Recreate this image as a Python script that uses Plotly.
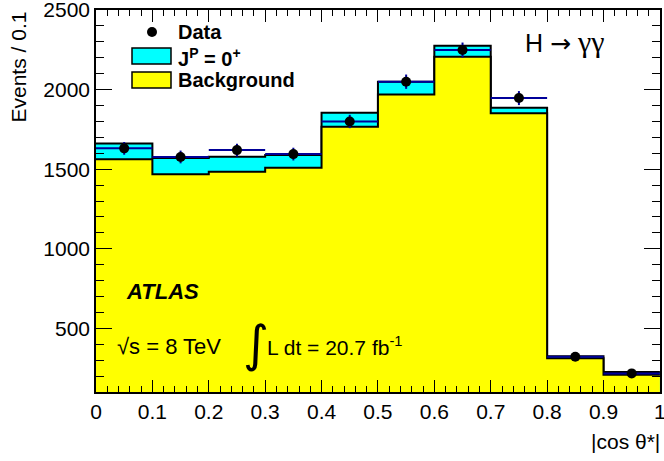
import plotly.graph_objects as go

# bin edges of |cos theta*|
edges = [0.0, 0.1, 0.2, 0.3, 0.4, 0.5, 0.6, 0.7, 0.8, 0.9, 1.0]
bin_centres = [0.05, 0.15, 0.25, 0.35, 0.45, 0.55, 0.65, 0.75, 0.85, 0.95]
bin_halfwidth = [0.05] * 10

background = [1562, 1468, 1484, 1509, 1767, 1970, 2207, 1851, 312, 209]
signal_plus_bkg = [1662, 1570, 1578, 1590, 1855, 2050, 2276, 1886, 325, 226]
data = [1631, 1577, 1620, 1595, 1800, 2050, 2249, 1947, 322, 217]
data_err = [40, 40, 40, 40, 42, 45, 47, 44, 18, 15]

FONT = "Liberation Sans"
W, H = 664, 461
L, R, T, B = 96, 4, 10, 69
PW, PH = W - L - R, H - T - B


def px(x):
    return (x - L) / PW


def py(y):
    return (H - B - y) / PH


fig = go.Figure()

fig.add_trace(go.Scatter(
    x=edges, y=signal_plus_bkg + signal_plus_bkg[-1:],
    mode="lines", line=dict(shape="hv", color="black", width=2),
    fill="tozeroy", fillcolor="#00FFFF", hoverinfo="skip"))

fig.add_trace(go.Scatter(
    x=edges, y=background + background[-1:],
    mode="lines", line=dict(shape="hv", color="black", width=2),
    fill="tozeroy", fillcolor="#FFFF00", hoverinfo="skip"))

fig.add_trace(go.Scatter(
    x=bin_centres, y=data, mode="markers",
    marker=dict(color="black", size=10),
    error_x=dict(type="data", array=bin_halfwidth, color="#000099", thickness=2, width=0),
    error_y=dict(type="data", array=data_err, color="#000099", thickness=2, width=0)))

axis_common = dict(
    showline=True, linecolor="black", linewidth=1.5, mirror="allticks",
    ticks="inside", tickcolor="black", showgrid=False, zeroline=False,
    automargin=False, ticklabeloverflow="allow",
    tickfont=dict(family=FONT, size=21, color="black"))

fig.update_xaxes(range=[0, 1.0002], dtick=0.1, tick0=0, ticklen=12, tickwidth=1.2,
                 minor=dict(dtick=0.02, ticks="inside", ticklen=6, tickwidth=1, tickcolor="black"),
                 **axis_common)
fig.update_yaxes(range=[100, 2500.5], dtick=500, tick0=0, ticklen=16, tickwidth=1.2,
                 minor=dict(dtick=100, ticks="inside", ticklen=8, tickwidth=1, tickcolor="black"),
                 **axis_common)

ann = []


def text(x, y, s, size=21, xanchor="left", **kw):
    ann.append(dict(x=px(x), y=py(y), xref="paper", yref="paper", text=s, showarrow=False,
                    xanchor=xanchor, yanchor="middle",
                    font=dict(family=kw.pop("family", FONT), size=size, color="black"), **kw))


# axis titles
ann.append(dict(x=px(18), y=1, xref="paper", yref="paper", text="Events / 0.1", showarrow=False,
                textangle=-90, xanchor="center", yanchor="top",
                font=dict(family=FONT, size=21, color="black")))
text(662, 441, "|cos θ*|", xanchor="right")

# labels
text(523, 41, "H <span style='font-family:DejaVu Sans'>→</span> "
     "<span style='font-family:Liberation Serif;font-size:30px'>γγ</span>", size=25)
text(124, 291, "<b><i>ATLAS</i></b>", size=22)
text(115, 346, "√s = 8 TeV", size=22)
text(256, 344, "∫", size=50, xanchor="center", family="DejaVu Sans")
text(265, 346, "L dt = 20.7 fb<sup>-1</sup>", size=21)

# legend
text(176, 32, "<b>Data</b>", size=20)
text(176, 57, "<b>J<sup>P</sup> = 0<sup>+</sup></b>", size=20)
text(176, 80, "<b>Background</b>", size=20)

shapes = []
for (y0, y1, col) in [(48, 64, "#00FFFF"), (72, 88, "#FFFF00")]:
    shapes.append(dict(type="rect", xref="paper", yref="paper",
                       x0=px(132), x1=px(171), y0=py(y1), y1=py(y0),
                       fillcolor=col, line=dict(color="black", width=1.5)))
shapes.append(dict(type="circle", xref="paper", yref="paper",
                   x0=px(147), x1=px(157), y0=py(37), y1=py(27),
                   fillcolor="black", line=dict(color="black", width=0)))

fig.update_layout(
    width=W, height=H, margin=dict(l=L, r=R, t=T, b=B),
    paper_bgcolor="white", plot_bgcolor="white", showlegend=False,
    annotations=ann, shapes=shapes)

fig.write_html("out.html", config={"displayModeBar": False},
               post_script="document.body.style.margin='0px';")
